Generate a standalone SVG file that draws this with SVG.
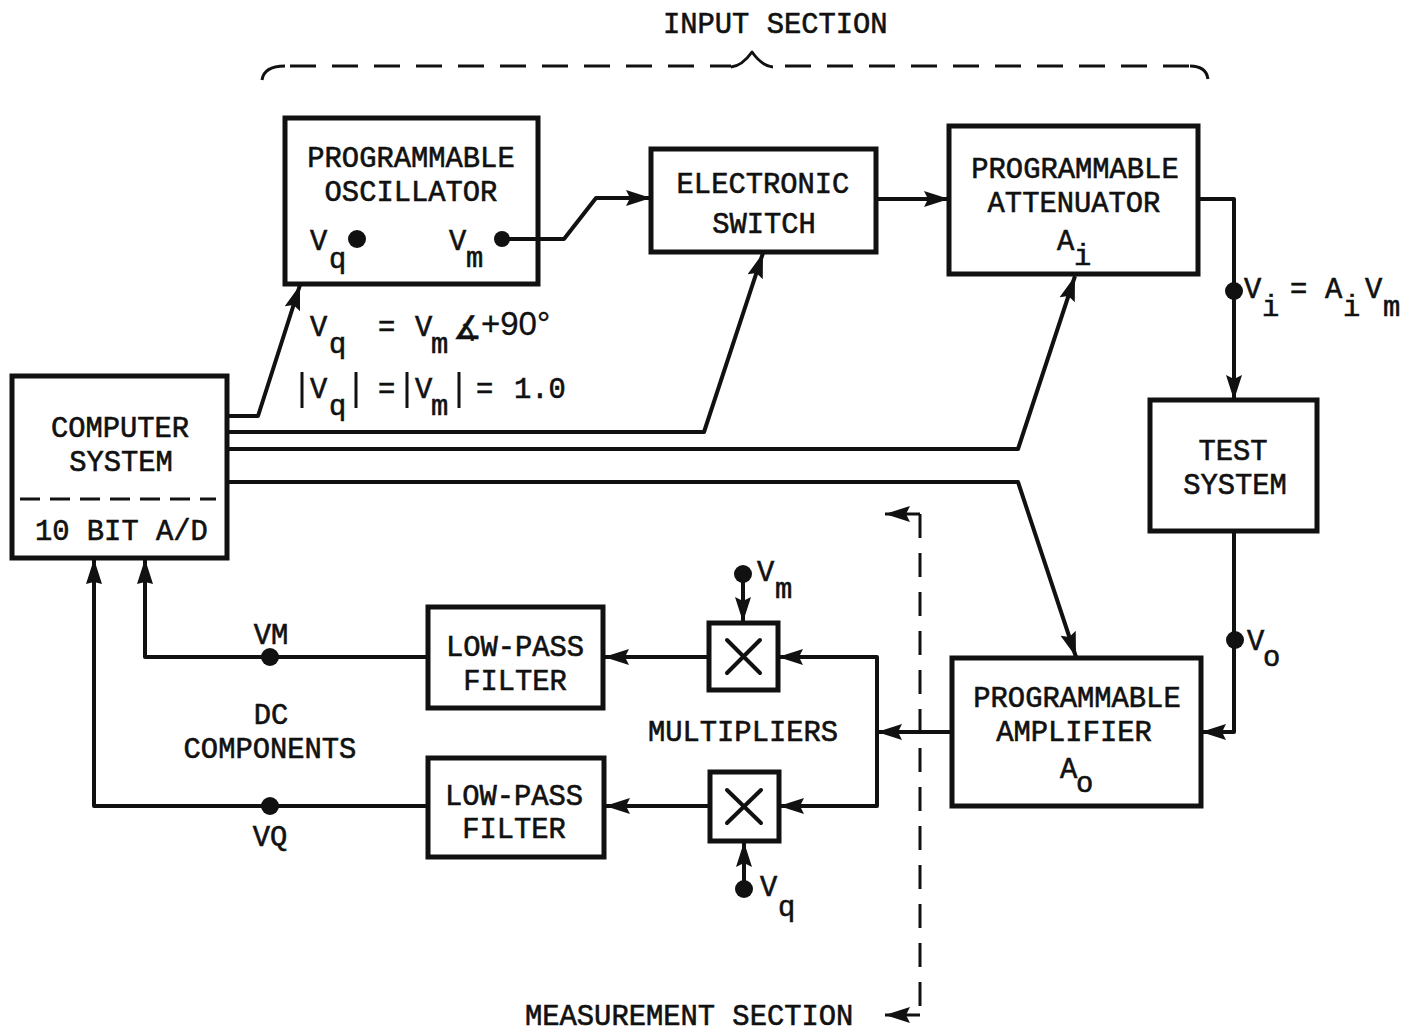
<svg xmlns="http://www.w3.org/2000/svg" width="1409" height="1033" viewBox="0 0 1409 1033">
<style>
text{font-family:"Liberation Mono","DejaVu Sans Mono",monospace;font-size:28.8px;fill:#111;stroke:#111;stroke-width:.6}
.c{text-anchor:middle}
.box{fill:#fff;stroke:#111;stroke-width:5}
.w{fill:none;stroke:#111;stroke-width:4;stroke-linejoin:round}
.t{fill:none;stroke:#111;stroke-width:3;stroke-linejoin:round}
.d{fill:none;stroke:#111;stroke-width:3}
.dot{fill:#111}
.arr{marker-end:url(#a)}
.arr2{marker-end:url(#b)}
.x{stroke:#111;stroke-width:4;stroke-linecap:round}
</style>
<defs>
<marker id="a" markerUnits="userSpaceOnUse" markerWidth="26" markerHeight="20" refX="25" refY="10" orient="auto"><path d="M0 2L25 10L0 18L4 10Z" fill="#111"/></marker>
<marker id="b" markerUnits="userSpaceOnUse" markerWidth="26" markerHeight="20" refX="25" refY="10" orient="auto"><path d="M0 2L25 10L0 18L2 10Z" fill="#111"/></marker>
</defs>
<rect width="1409" height="1033" fill="#fff"/>
<g id="input-section">
<text x="663" y="33">INPUT SECTION</text>
<path class="t" d="M262 80Q264 66 285 66" />
<path class="d" stroke-dasharray="26 16" d="M290 66H731"/>
<path class="t" d="M731 67Q742 66 752 52Q762 66 773 67"/>
<path class="d" stroke-dasharray="26 16" d="M785 66H1190"/>
<path class="t" d="M1190 66Q1206 66 1208 79"/>
</g>
<g id="measurement-section">
<text x="525" y="1025">MEASUREMENT SECTION</text>
<path class="d" stroke-dasharray="24 15" d="M920 514V1015"/>
<path class="t arr" d="M920 514H885"/>
<path class="t arr" d="M920 1015H885"/>
</g>
<g id="programmable-oscillator">
<rect class="box" x="285" y="118" width="253" height="166"/>
<text class="c" x="411" y="167">PROGRAMMABLE</text>
<text class="c" x="411" y="201">OSCILLATOR</text>
<text x="310" y="250">V</text><text x="329" y="268">q</text>
<circle class="dot" cx="357" cy="239" r="9"/>
<text x="449" y="250">V</text><text x="466" y="267">m</text>
<circle class="dot" cx="502" cy="239" r="8"/>
</g>
<g id="electronic-switch">
<rect class="box" x="651" y="149" width="225" height="103"/>
<text class="c" x="763" y="193">ELECTRONIC</text>
<text class="c" x="764" y="233">SWITCH</text>
</g>
<g id="programmable-attenuator">
<rect class="box" x="949" y="126" width="249" height="148"/>
<text class="c" x="1075" y="178">PROGRAMMABLE</text>
<text class="c" x="1074" y="212">ATTENUATOR</text>
<text x="1057" y="250">A</text><text x="1074" y="265">i</text>
</g>
<g id="test-system">
<rect class="box" x="1150" y="400" width="167" height="131"/>
<text class="c" x="1233" y="460">TEST</text>
<text class="c" x="1235" y="494">SYSTEM</text>
</g>
<g id="programmable-amplifier">
<rect class="box" x="952" y="658" width="249" height="148"/>
<text class="c" x="1077" y="707">PROGRAMMABLE</text>
<text class="c" x="1074" y="741">AMPLIFIER</text>
<text x="1060" y="778">A</text><text x="1076" y="792">o</text>
</g>
<g id="computer-system">
<rect class="box" x="12" y="376" width="215" height="182"/>
<text class="c" x="120" y="437">COMPUTER</text>
<text class="c" x="121" y="471">SYSTEM</text>
<path class="d" stroke-dasharray="20 10" d="M20 499H216"/>
<text x="35" y="540">10 BIT A/D</text>
</g>
<g id="low-pass-filter-1">
<rect class="box" x="428" y="607" width="175" height="101"/>
<text class="c" x="515" y="656">LOW-PASS</text>
<text class="c" x="515" y="690">FILTER</text>
</g>
<g id="low-pass-filter-2">
<rect class="box" x="428" y="758" width="176" height="99"/>
<text class="c" x="514" y="805">LOW-PASS</text>
<text class="c" x="514" y="838">FILTER</text>
</g>
<g id="multiplier-1">
<rect class="box" x="709" y="623" width="69" height="67"/>
<path class="x" d="M727 640L760 673M760 640L727 673"/>
</g>
<g id="multiplier-2">
<rect class="box" x="710" y="772" width="69" height="69"/>
<path class="x" d="M727 790L761 823M761 790L727 823"/>
</g>
<g id="connectors">
<path class="w arr" d="M228 416H258L300 285"/>
<path class="w arr" d="M228 432H704L763 253"/>
<path class="w arr" d="M228 449H1018L1075 276"/>
<path class="w arr" d="M228 482H1018L1076 657"/>
<path class="w arr" d="M502 239H564L596 198H651"/>
<path class="w arr" d="M876 199H949"/>
<path class="w arr" d="M1198 199H1234V400"/>
<path class="w arr" d="M1234 531V732H1201"/>
<path class="w arr" d="M952 732H877"/>
<path class="w arr" d="M877 732V657H778"/>
<path class="w arr" d="M877 732V806H779"/>
<path class="w arr" d="M709 657H604"/>
<path class="w arr" d="M710 806H605"/>
<path class="w arr2" d="M428 657H145V559"/>
<path class="w arr2" d="M428 806H94V559"/>
<path class="w arr" d="M743 574V622"/>
<path class="w arr" d="M744 889V842"/>
</g>
<g id="signal-points">
<circle class="dot" cx="1234" cy="291" r="9"/>
<circle class="dot" cx="1235" cy="640" r="9"/>
<circle class="dot" cx="270" cy="657" r="9"/>
<circle class="dot" cx="270" cy="806" r="9"/>
<circle class="dot" cx="743" cy="574" r="9"/>
<circle class="dot" cx="744" cy="889" r="9"/>
</g>
<g id="labels">
<text x="310" y="336">V</text><text x="329" y="353">q</text>
<text x="378" y="336">=</text>
<text x="415" y="336">V</text><text x="431" y="353">m</text>
<text x="453" y="339" style="font-family:'DejaVu Sans',sans-serif;font-size:32px">∡</text>
<text x="481" y="335" style="font-family:'Liberation Sans',sans-serif;font-size:33px;stroke-width:.3">+90°</text>
<path class="d" d="M302 372V408M356 372V408M407 372V408M459 372V408"/>
<text x="310" y="398">V</text><text x="329" y="415">q</text>
<text x="378" y="398">=</text>
<text x="415" y="398">V</text><text x="431" y="415">m</text>
<text x="476" y="398">=</text>
<text x="514" y="398">1.0</text>
<text x="1244" y="298">V</text><text x="1262" y="316">i</text>
<text x="1290" y="298">=</text>
<text x="1325" y="298">A</text><text x="1343" y="316">i</text>
<text x="1365" y="298">V</text><text x="1383" y="316">m</text>
<text x="1247" y="650">V</text><text x="1263" y="666">o</text>
<text class="c" x="271" y="644">VM</text>
<text class="c" x="271" y="724">DC</text>
<text class="c" x="270" y="758">COMPONENTS</text>
<text class="c" x="270" y="846">VQ</text>
<text class="c" x="743" y="741">MULTIPLIERS</text>
<text x="757" y="581">V</text><text x="775" y="598">m</text>
<text x="760" y="896">V</text><text x="778" y="916">q</text>
</g>
</svg>
